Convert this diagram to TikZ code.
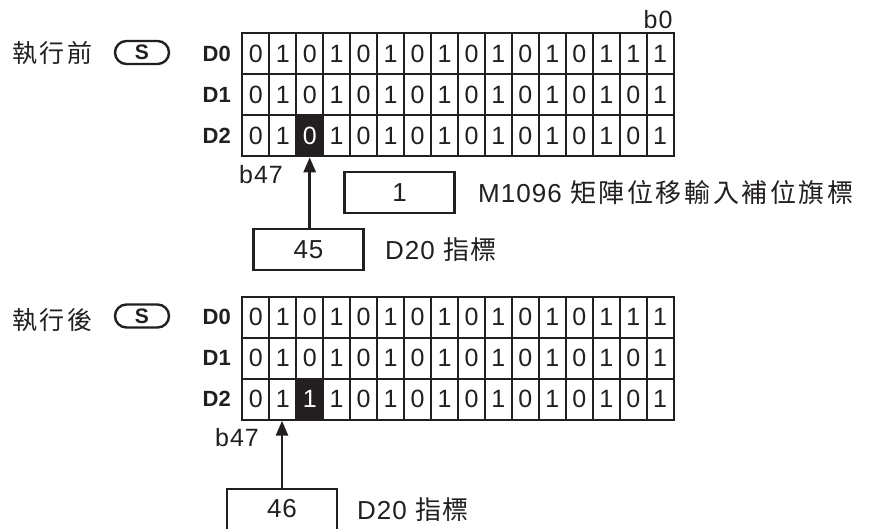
\documentclass[tikz,border=0pt]{standalone}
\usepackage{fontspec}
\setmainfont{Liberation Sans}
\newfontfamily\cjk[LetterSpace=3]{Noto Sans CJK TC}
\newfontfamily\cjkwide[LetterSpace=10]{Noto Sans CJK TC}
\newfontfamily\latsp[LetterSpace=4]{Liberation Sans}
\usetikzlibrary{arrows.meta,shapes.misc}
\definecolor{ink}{HTML}{231F20}
\tikzset{
  cell/.style={draw=ink, line width=2pt, minimum width=26.96pt, minimum height=41pt, inner sep=0pt, text=ink, font=\fontsize{25}{25}\selectfont},
  blackcell/.style={cell, fill=ink, text=white},
  rowlab/.style={anchor=east, inner sep=0pt, text=ink, font=\fontsize{22}{22}\selectfont\bfseries},
  valbox/.style={draw=ink, line width=2.2pt, minimum width=110pt, minimum height=41pt, inner sep=0pt, text=ink, font=\latsp\fontsize{26}{26}\selectfont},
  plain/.style={inner sep=0pt, text=ink, font=\latsp\fontsize{25}{25}\selectfont},
  lab/.style={anchor=west, inner sep=0pt, text=ink, font=\fontsize{26}{26}\selectfont},
  cjklab/.style={anchor=west, inner sep=0pt, text=ink, font=\cjkwide\fontsize{25}{25}\selectfont},
  oval/.style={rounded rectangle, draw=ink, line width=2.4pt, minimum width=54pt, minimum height=23pt, inner sep=0pt, text=ink, font=\fontsize{21}{21}\selectfont\bfseries},
  ptr/.style={-{Triangle[length=15pt,width=12pt]}, line width=2.8pt, draw=ink},
}
\begin{document}
\begin{tikzpicture}[x=1pt,y=-1pt]
\useasboundingbox (0,0) rectangle (869,528);
\fill[white] (0,0) rectangle (869,528);

% ---------- before ----------
\node[cjklab] (befT) at (12,53) {執行前};
\node[oval] (befS) at (142,52.5) {S};
\node[plain] (b0) at (658,20) {b0};
\foreach \bits [count=\r from 0] in {{0,1,0,1,0,1,0,1,0,1,0,1,0,1,1,1},{0,1,0,1,0,1,0,1,0,1,0,1,0,1,0,1},{0,1,0,1,0,1,0,1,0,1,0,1,0,1,0,1}}
  \foreach \b [count=\c from 0] in \bits {
    \def\st{cell}
    \ifnum\r=2 \ifnum\c=2 \def\st{blackcell}\fi\fi
    \node[\st] (T-\r-\c) at ({242.3+26.96*(\c+0.5)},{33.3+41*(\r+0.5)}) {\b};
  }
\node[rowlab] (TD0) at (231,53.8) {D0};
\node[rowlab] (TD1) at (231,94.8) {D1};
\node[rowlab] (TD2) at (231,135.8) {D2};
\node[plain] (Tb47) at (261,175) {b47};
\node[valbox] (flag) at (399.5,192.5) {1};
\node[lab] (flagT) at (478,192.5) {\latsp M1096 \cjkwide 矩陣位移輸入補位旗標};
\node[valbox] (ptrA) at (308.5,249.5) {45};
\node[lab] (ptrAT) at (385,250) {\latsp D20 \cjk 指標};
\draw[ptr] (ptrA.north -| T-2-2.south) -- (T-2-2.south);

% ---------- after ----------
\node[cjklab] (aftT) at (12,320) {執行後};
\node[oval] (aftS) at (142,316) {S};
\foreach \bits [count=\r from 0] in {{0,1,0,1,0,1,0,1,0,1,0,1,0,1,1,1},{0,1,0,1,0,1,0,1,0,1,0,1,0,1,0,1},{0,1,1,1,0,1,0,1,0,1,0,1,0,1,0,1}}
  \foreach \b [count=\c from 0] in \bits {
    \def\st{cell}
    \ifnum\r=2 \ifnum\c=2 \def\st{blackcell}\fi\fi
    \node[\st] (B-\r-\c) at ({242.3+26.96*(\c+0.5)},{296.7+41*(\r+0.5)}) {\b};
  }
\node[rowlab] (BD0) at (231,317.2) {D0};
\node[rowlab] (BD1) at (231,358.2) {D1};
\node[rowlab] (BD2) at (231,399.2) {D2};
\node[plain] (Bb47) at (237,438) {b47};
\node[inner sep=0pt, text=ink, font=\latsp\fontsize{26}{26}\selectfont] (ptrB) at (282,509) {46};
\coordinate (pbL) at (227,530);
\coordinate (pbR) at (337,530);
\draw[draw=ink, line width=2.2pt] (pbL) -- (227,489) coordinate (pbTL) -- (337,489) coordinate (pbTR) -- (pbR);
\node[lab] (ptrBT) at (357,510) {\latsp D20 \cjk 指標};
\draw[ptr] (ptrB.center |- pbTL) -- (ptrB.center |- B-2-1.south);
\end{tikzpicture}
\end{document}
